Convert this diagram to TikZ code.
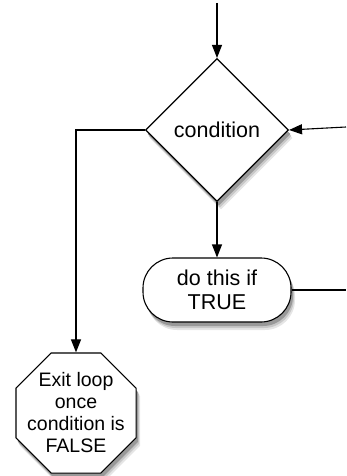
\documentclass[tikz,border=0pt]{standalone}
\usepackage{fontspec}
\setmainfont{Liberation Sans}
\usetikzlibrary{shapes.geometric,shapes.misc,arrows.meta,shadows,positioning,calc}

\begin{document}
\begin{tikzpicture}[x=1pt, y=-1pt, >={Triangle[length=13pt,width=10pt]},
        box/.style={draw, line width=1.1pt, fill=white, align=center, inner sep=0pt,
            drop shadow={shadow xshift=4pt, shadow yshift=-8pt, fill=black!10, opacity=1},
            drop shadow={shadow xshift=3pt, shadow yshift=-6pt, fill=black!22, opacity=1},
            drop shadow={shadow xshift=2pt, shadow yshift=-4pt, fill=black!40, opacity=1}},
        flow/.style={line width=1.1pt}]
        \useasboundingbox (0,0) rectangle (346,476);

        \node (cond) [box, diamond, aspect=1, minimum size=143pt, font=\fontsize{21.5}{23}\selectfont] at (217,130) {condition};
        \node (dothis) [box, rectangle, rounded corners=30pt, minimum width=148pt, minimum height=64pt, font=\fontsize{21.5}{24}\selectfont] at (217,290) {do this if\\TRUE};
        \node (exitloop) [box, regular polygon, regular polygon sides=8, minimum size=130pt,
            label={[align=center, font=\fontsize{19.5}{22}\selectfont]center:Exit loop\\once\\condition is\\FALSE}] at (76,413) {};

        \coordinate (entry) at (217,3);
        \coordinate (back) at (346,127);
        \coordinate (out) at (346,290);

        \draw[->, flow] (entry) -- (cond.north);
        \draw[->, flow] (back) -- (cond.east);
        \draw[->, flow] (cond.south) -- (dothis.north);
        \draw[->, flow] (cond.west) -| (exitloop.north);
        \draw[flow] (dothis.east) -- (out);
    \end{tikzpicture}
\end{document}
